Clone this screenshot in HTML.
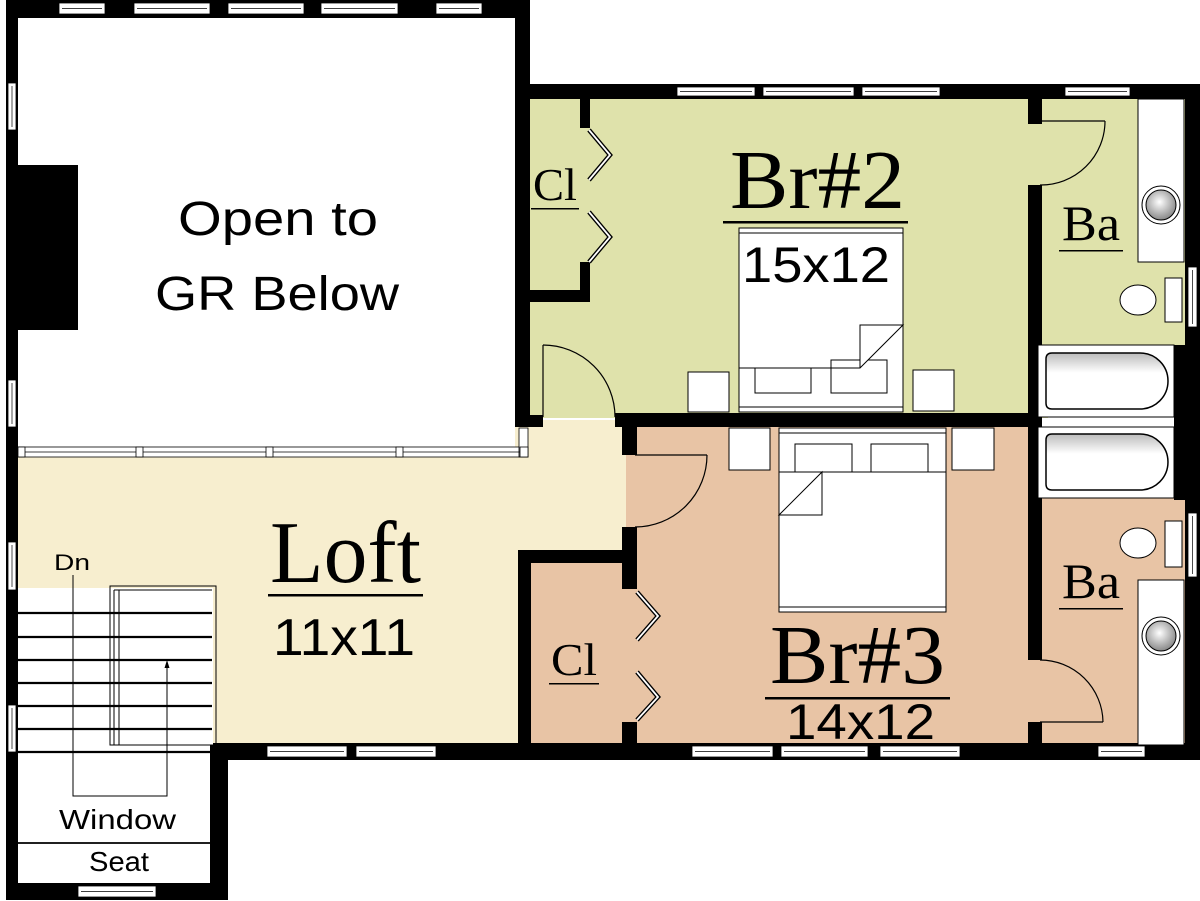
<!DOCTYPE html>
<html><head><meta charset="utf-8"><style>
html,body{margin:0;padding:0;background:#fff;}
svg{display:block;}
.lbl{font-family:"Liberation Sans",sans-serif;fill:#000;}
.ser{font-family:"Liberation Serif",serif;fill:#000;}
</style></head><body>
<svg width="1200" height="901" viewBox="0 0 1200 901" xmlns="http://www.w3.org/2000/svg">
<defs>
<radialGradient id="sk" cx="0.45" cy="0.4" r="0.6"><stop offset="0" stop-color="#fff"/><stop offset="1" stop-color="#888"/></radialGradient>
<linearGradient id="tb" x1="0" y1="0" x2="0" y2="1"><stop offset="0" stop-color="#bbb"/><stop offset="0.35" stop-color="#fff"/><stop offset="1" stop-color="#fff"/></linearGradient>
</defs>
<rect width="1200" height="901" fill="#fff"/>
<!-- floor colors -->
<rect x="18" y="420" width="610" height="325" fill="#f7eecf"/>
<rect x="528" y="98" width="520" height="320" fill="#dfe2ab"/>
<rect x="1036" y="98" width="152" height="250" fill="#dfe2ab"/>
<rect x="626" y="425" width="416" height="320" fill="#e8c4a5"/>
<rect x="528" y="560" width="100" height="185" fill="#e8c4a5"/>
<rect x="1036" y="495" width="152" height="250" fill="#e8c4a5"/>
<rect x="18" y="18" width="497" height="430" fill="#fff"/>
<!-- walls -->
<g fill="#000">
<rect x="6" y="0" width="524" height="18"/>
<rect x="6" y="0" width="12" height="900"/>
<rect x="515" y="0" width="15" height="100"/>
<rect x="515" y="84" width="685" height="15"/>
<rect x="1185" y="84" width="15" height="676"/>
<rect x="515" y="84" width="15" height="343"/>
<rect x="515" y="415" width="28" height="12"/>
<rect x="18" y="165" width="60" height="165"/>
<rect x="580" y="98" width="10" height="30"/>
<rect x="580" y="262" width="10" height="40"/>
<rect x="524" y="290" width="66" height="12"/>
<rect x="615" y="413" width="427" height="14"/>
<rect x="622" y="413" width="15" height="42"/>
<rect x="622" y="527" width="15" height="62"/>
<rect x="622" y="722" width="15" height="25"/>
<rect x="518" y="550" width="113" height="13"/>
<rect x="518" y="550" width="13" height="197"/>
<rect x="1028" y="98" width="14" height="26"/>
<rect x="1028" y="185" width="14" height="475"/>
<rect x="1028" y="722" width="14" height="25"/>
<rect x="1174" y="345" width="12" height="155"/>
<rect x="210" y="743" width="990" height="17"/>
<rect x="210" y="743" width="18" height="157"/>
<rect x="6" y="883" width="222" height="17"/>
</g>
<!-- windows -->
<g fill="#fff" stroke="#000" stroke-width="0.8">
<rect x="59" y="3" width="46" height="11"/><rect x="134" y="3" width="76" height="11"/><rect x="228" y="3" width="76" height="11"/><rect x="321" y="3" width="77" height="11"/><rect x="436" y="3" width="46" height="11"/>
<rect x="677" y="87" width="78" height="9"/><rect x="763" y="87" width="91" height="9"/><rect x="862" y="87" width="78" height="9"/><rect x="1065" y="87" width="65" height="9"/>
<rect x="8" y="83" width="8" height="47"/><rect x="8" y="380" width="8" height="47"/><rect x="8" y="542" width="8" height="48"/><rect x="8" y="705" width="8" height="47"/>
<rect x="1188" y="267" width="9" height="60"/><rect x="1188" y="513" width="9" height="64"/>
<rect x="267" y="746" width="80" height="11"/><rect x="356" y="746" width="80" height="11"/>
<rect x="692" y="746" width="81" height="11"/><rect x="781" y="746" width="87" height="11"/><rect x="880" y="746" width="80" height="11"/><rect x="1098" y="746" width="47" height="11"/>
<rect x="78" y="886" width="78" height="11"/>
<rect x="18" y="447" width="510" height="10"/>
<rect x="519" y="428" width="9" height="29"/>
</g>
<g stroke="#000" stroke-width="0.7" fill="none">
<line x1="62" y1="8.5" x2="102" y2="8.5"/><line x1="137" y1="8.5" x2="207" y2="8.5"/><line x1="231" y1="8.5" x2="301" y2="8.5"/><line x1="324" y1="8.5" x2="395" y2="8.5"/><line x1="439" y1="8.5" x2="479" y2="8.5"/>
<line x1="680" y1="91.5" x2="752" y2="91.5"/><line x1="766" y1="91.5" x2="851" y2="91.5"/><line x1="865" y1="91.5" x2="937" y2="91.5"/><line x1="1068" y1="91.5" x2="1127" y2="91.5"/>
<line x1="12" y1="86" x2="12" y2="127"/><line x1="12" y1="383" x2="12" y2="424"/><line x1="12" y1="545" x2="12" y2="587"/><line x1="12" y1="708" x2="12" y2="749"/>
<line x1="1192.5" y1="270" x2="1192.5" y2="324"/><line x1="1192.5" y1="516" x2="1192.5" y2="574"/>
<line x1="270" y1="751.5" x2="344" y2="751.5"/><line x1="359" y1="751.5" x2="433" y2="751.5"/><line x1="695" y1="751.5" x2="770" y2="751.5"/><line x1="784" y1="751.5" x2="865" y2="751.5"/><line x1="883" y1="751.5" x2="957" y2="751.5"/><line x1="1101" y1="751.5" x2="1142" y2="751.5"/>
<line x1="81" y1="891.5" x2="153" y2="891.5"/>
<line x1="18" y1="452" x2="528" y2="452"/>
</g>
<g fill="#fff" stroke="#000" stroke-width="0.8">
<rect x="18" y="447" width="7" height="10"/><rect x="136" y="447" width="7" height="10"/><rect x="266" y="447" width="7" height="10"/><rect x="396" y="447" width="7" height="10"/><rect x="520" y="447" width="8" height="10"/>
</g>
<!-- doors -->
<g stroke="#000" stroke-width="1.2" fill="none">
<line x1="543" y1="345" x2="543" y2="417"/><path d="M543 345 A72 72 0 0 1 615 417"/>
<path d="M1040 121 L1105 121 M1105 121 A64 64 0 0 1 1040 185"/>
<path d="M635 455 L707 455 M707 455 A72 72 0 0 1 635 527"/>
<path d="M1040 722 L1103 722 M1040 660 A63 63 0 0 1 1103 722"/>
</g>
<g stroke="#000" stroke-width="4.5" fill="none" stroke-linejoin="miter">
<polyline points="589,130 610,155 589,180"/><polyline points="589,212 610,237 589,262"/>
<polyline points="637,592 658,616 637,640"/><polyline points="637,672 658,697 637,720"/>
</g>
<g stroke="#fff" stroke-width="1.8" fill="none">
<polyline points="589,130 610,155 589,180"/><polyline points="589,212 610,237 589,262"/>
<polyline points="637,592 658,616 637,640"/><polyline points="637,672 658,697 637,720"/>
</g>
<!-- stairs -->
<rect x="18" y="588" width="195" height="157" fill="#fff"/>
<rect x="18" y="745" width="192" height="138" fill="#fff"/>
<g stroke="#000" fill="none">
<rect x="110" y="586" width="106" height="159" stroke-width="1"/>
<line x1="114" y1="590" x2="114" y2="745" stroke-width="1"/>
<line x1="119" y1="590" x2="119" y2="745" stroke-width="1"/>
<line x1="114" y1="590" x2="212" y2="590" stroke-width="1"/>
<g stroke-width="2.2">
<line x1="18" y1="613" x2="212" y2="613"/><line x1="18" y1="637" x2="212" y2="637"/><line x1="18" y1="660" x2="212" y2="660"/><line x1="18" y1="683" x2="212" y2="683"/><line x1="18" y1="706" x2="212" y2="706"/><line x1="18" y1="729" x2="212" y2="729"/><line x1="18" y1="752" x2="212" y2="752"/>
</g>
<line x1="18" y1="843" x2="212" y2="843" stroke-width="1.8"/>
<polyline points="73,575 73,796 167,796 167,663" stroke-width="1"/>
</g>
<path d="M167 660 L164.5 668 L169.5 668 Z" fill="#000"/>
<!-- bath fixtures -->
<g stroke="#000" stroke-width="1">
<rect x="1138" y="99" width="46" height="163" fill="#fff"/>
<circle cx="1161" cy="205" r="19" fill="#fff"/><circle cx="1161" cy="205" r="15" fill="url(#sk)"/>
<ellipse cx="1138" cy="300" rx="18" ry="15" fill="#fff"/>
<rect x="1165" y="278" width="17" height="44" fill="#fff"/>
<rect x="1038" y="345" width="136" height="72" fill="#fff"/>
<path d="M1052 353 H1140 A26 26 0 0 1 1140 409 H1052 Q1046 409 1046 403 V359 Q1046 353 1052 353 Z" fill="url(#tb)" stroke-width="1.5"/>
<rect x="1038" y="427" width="136" height="71" fill="#fff"/>
<path d="M1052 434 H1140 A26 26 0 0 1 1140 490 H1052 Q1046 490 1046 484 V440 Q1046 434 1052 434 Z" fill="url(#tb)" stroke-width="1.5"/>
<ellipse cx="1138" cy="543" rx="18" ry="15" fill="#fff"/>
<rect x="1165" y="521" width="17" height="46" fill="#fff"/>
<rect x="1138" y="580" width="46" height="165" fill="#fff"/>
<circle cx="1161" cy="636" r="19" fill="#fff"/><circle cx="1161" cy="636" r="15" fill="url(#sk)"/>
</g>
<!-- beds -->
<g stroke="#000" stroke-width="1" fill="#fff">
<rect x="739" y="228" width="164" height="184"/>
<line x1="739" y1="233" x2="903" y2="233"/><line x1="739" y1="407" x2="903" y2="407"/>
<rect x="755" y="368" width="56" height="25"/><rect x="831" y="360" width="56" height="33"/>
<path d="M739 368 H860 L903 325 H860 V368"/>
<rect x="688" y="372" width="41" height="40"/><rect x="913" y="370" width="41" height="41"/>
<rect x="779" y="428" width="167" height="184"/>
<line x1="779" y1="433" x2="946" y2="433"/><line x1="779" y1="607" x2="946" y2="607"/>
<rect x="795" y="444" width="57" height="36"/><rect x="871" y="444" width="57" height="36"/>
<path d="M779 472 H946 V607 H779 Z" />
<path d="M779 515 L822 472 V515 Z"/>
<rect x="729" y="428" width="41" height="42"/><rect x="952" y="428" width="42" height="42"/>
</g>
<!-- labels -->
<text class="lbl" x="178" y="235" font-size="48" textLength="200" lengthAdjust="spacingAndGlyphs">Open to</text>
<text class="lbl" x="155" y="310" font-size="48" textLength="244" lengthAdjust="spacingAndGlyphs">GR Below</text>
<text class="ser" x="730" y="208" font-size="84" textLength="175" lengthAdjust="spacingAndGlyphs">Br#2</text>
<rect x="723" y="221" width="185" height="2.5" fill="#000"/>
<text class="lbl" x="742" y="282" font-size="50" textLength="148" lengthAdjust="spacingAndGlyphs">15x12</text>
<text class="ser" x="533" y="200" font-size="46" textLength="44" lengthAdjust="spacingAndGlyphs">Cl</text>
<rect x="531" y="208" width="48" height="1.5" fill="#000"/>
<text class="ser" x="1062" y="240" font-size="50" textLength="58" lengthAdjust="spacingAndGlyphs">Ba</text>
<rect x="1059" y="250" width="64" height="1.5" fill="#000"/>
<text class="ser" x="270" y="582" font-size="88" textLength="151" lengthAdjust="spacingAndGlyphs">Loft</text>
<rect x="268" y="594" width="155" height="2.5" fill="#000"/>
<text class="lbl" x="273" y="655" font-size="52" textLength="142" lengthAdjust="spacingAndGlyphs">11x11</text>
<text class="ser" x="551" y="675" font-size="46" textLength="46" lengthAdjust="spacingAndGlyphs">Cl</text>
<rect x="549" y="683" width="50" height="1.5" fill="#000"/>
<text class="ser" x="770" y="683" font-size="84" textLength="175" lengthAdjust="spacingAndGlyphs">Br#3</text>
<rect x="765" y="697" width="185" height="2.5" fill="#000"/>
<text class="lbl" x="786" y="739" font-size="50" textLength="149" lengthAdjust="spacingAndGlyphs">14x12</text>
<text class="ser" x="1062" y="598" font-size="50" textLength="58" lengthAdjust="spacingAndGlyphs">Ba</text>
<rect x="1059" y="608" width="64" height="1.5" fill="#000"/>
<text class="lbl" x="54" y="570" font-size="22" textLength="36" lengthAdjust="spacingAndGlyphs">Dn</text>
<text class="lbl" x="59" y="829" font-size="28" textLength="117" lengthAdjust="spacingAndGlyphs">Window</text>
<text class="lbl" x="89" y="871" font-size="28" textLength="60" lengthAdjust="spacingAndGlyphs">Seat</text>
</svg>
</body></html>
